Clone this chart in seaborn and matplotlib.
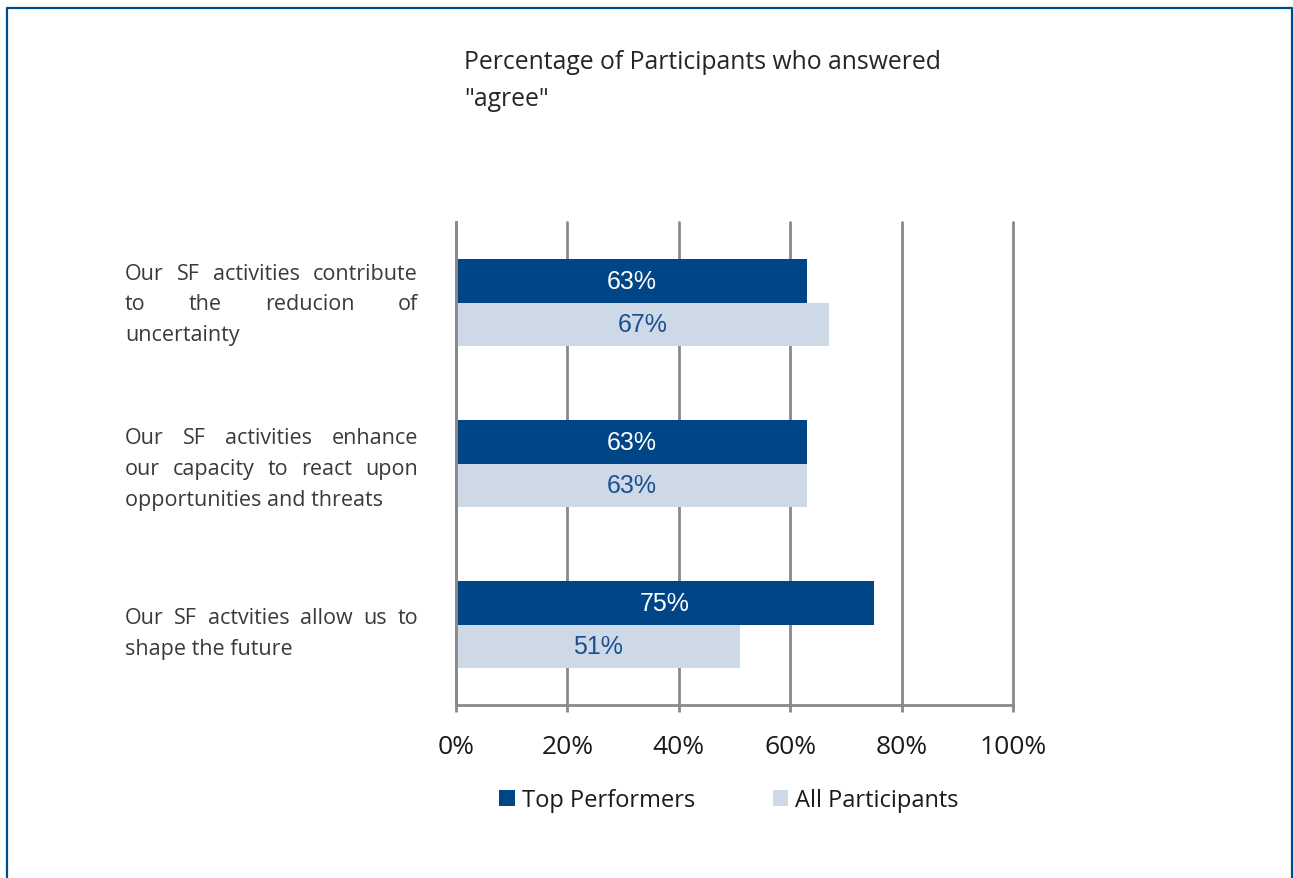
import matplotlib
matplotlib.use("Agg")
import matplotlib.pyplot as plt
import seaborn as sns
import pandas as pd
from matplotlib.lines import Line2D
from matplotlib.transforms import IdentityTransform

# Data
statements = [
    "Our SF activities contribute to the reducion of uncertainty",
    "Our SF activities enhance our capacity to react upon opportunities and threats",
    "Our SF actvities allow us to shape the future",
]
# line breaks as they appear in the original (justified text)
statement_lines = [
    ["Our SF activities contribute", "to the reducion of", "uncertainty"],
    ["Our SF activities enhance", "our capacity to react upon", "opportunities and threats"],
    ["Our SF actvities allow us to", "shape the future"],
]
groups = ["Top Performers", "All Participants"]
top_values = [63, 63, 75]
all_values = [67, 63, 51]
ticks = [0, 20, 40, 60, 80, 100]
tick_labels = ["0%", "20%", "40%", "60%", "80%", "100%"]
title = 'Percentage of Participants who answered\n"agree"'

DARK = "#004585"
LIGHT = "#cdd9e6"
GRID = "#898989"
BORDER = "#004a8a"
LABEL_DARK = "#1d4f8f"

df = pd.DataFrame({
    "statement": statements * 2,
    "group": [groups[0]] * len(statements) + [groups[1]] * len(statements),
    "value": top_values + all_values,
})

sns.set_theme(style="white")
plt.rcParams["font.family"] = ["Open Sans", "DejaVu Sans"]

W, H = 1293, 879
fig = plt.figure(figsize=(W / 100, H / 100), dpi=100)
ax = fig.add_axes([456 / W, 1 - 706 / H, 557 / W, 483 / H])

sns.barplot(data=df, y="statement", x="value", hue="group", orient="h",
            palette=[DARK, LIGHT], saturation=1, width=0.54, linewidth=0, ax=ax)

ax.set_xlim(0, 100)
ax.set_ylim(len(statements) - 0.5, -0.5)
ax.set_xticks(ticks)
ax.set_xticklabels(tick_labels, fontsize=19, color="#1a1a1a")
ax.set_yticks([])
ax.set_xlabel("")
ax.set_ylabel("")
ax.xaxis.grid(True, color=GRID, linewidth=2)
for gl in ax.get_xgridlines():
    gl.set_clip_on(False)
ax.set_axisbelow(True)
for side in ["top", "right"]:
    ax.spines[side].set_visible(False)
for side in ["left", "bottom"]:
    ax.spines[side].set_color(GRID)
    ax.spines[side].set_linewidth(2)
ax.tick_params(axis="x", bottom=True, length=5, width=2, color=GRID, pad=16)

# value labels inside bars
for cont, vals, col in zip(ax.containers, [top_values, all_values], ["white", LABEL_DARK]):
    ax.bar_label(cont, labels=[f"{v}%" for v in vals], label_type="center",
                 color=col, fontsize=18, family="Liberation Sans")

# legend below the axis
handles, labels = ax.get_legend_handles_labels()
ax.legend_.remove()
fig.legend(handles, labels, loc="center", bbox_to_anchor=(729 / W, 1 - 801 / H),
           ncol=2, frameon=False, fontsize=17, handlelength=0.65, handleheight=0.65,
           handletextpad=0.3, columnspacing=3.3, labelcolor="#1a1a1a")

# title
fig.text(464 / W, 1 - 50 / H, title, ha="left", va="top", fontsize=17.8,
         color="#262626", linespacing=1.65)

# justified category labels on the left
renderer = fig.canvas.get_renderer()
x_left, x_right = 125, 418
line_px = 31
label_kw = dict(fontsize=15.5, color="#3a3a3a", va="baseline", transform=IdentityTransform())
for i, lines in enumerate(statement_lines):
    yc = ax.transData.transform((0, i))[1]
    n = len(lines)
    first = yc + (n - 1) / 2 * line_px - (7 + 3.75 * i)
    for k, line in enumerate(lines):
        yb = first - k * line_px
        words = line.split()
        if k == n - 1 or len(words) == 1:
            fig.text(x_left, yb, line, ha="left", **label_kw)
            continue
        texts = [fig.text(0, yb, w, ha="left", **label_kw) for w in words]
        widths = [t.get_window_extent(renderer).width for t in texts]
        gap = (x_right - x_left - sum(widths)) / (len(words) - 1)
        x = x_left
        for t, wd in zip(texts, widths):
            t.set_x(x)
            x += wd + gap

# frame around the chart (bottom edge falls outside the picture)
fig.add_artist(Line2D([7 / W, 7 / W, 1292 / W, 1292 / W], [0, 1 - 9 / H, 1 - 9 / H, 0],
                      transform=fig.transFigure, color=BORDER, linewidth=1.6))

fig.savefig("out.png", dpi=100)
